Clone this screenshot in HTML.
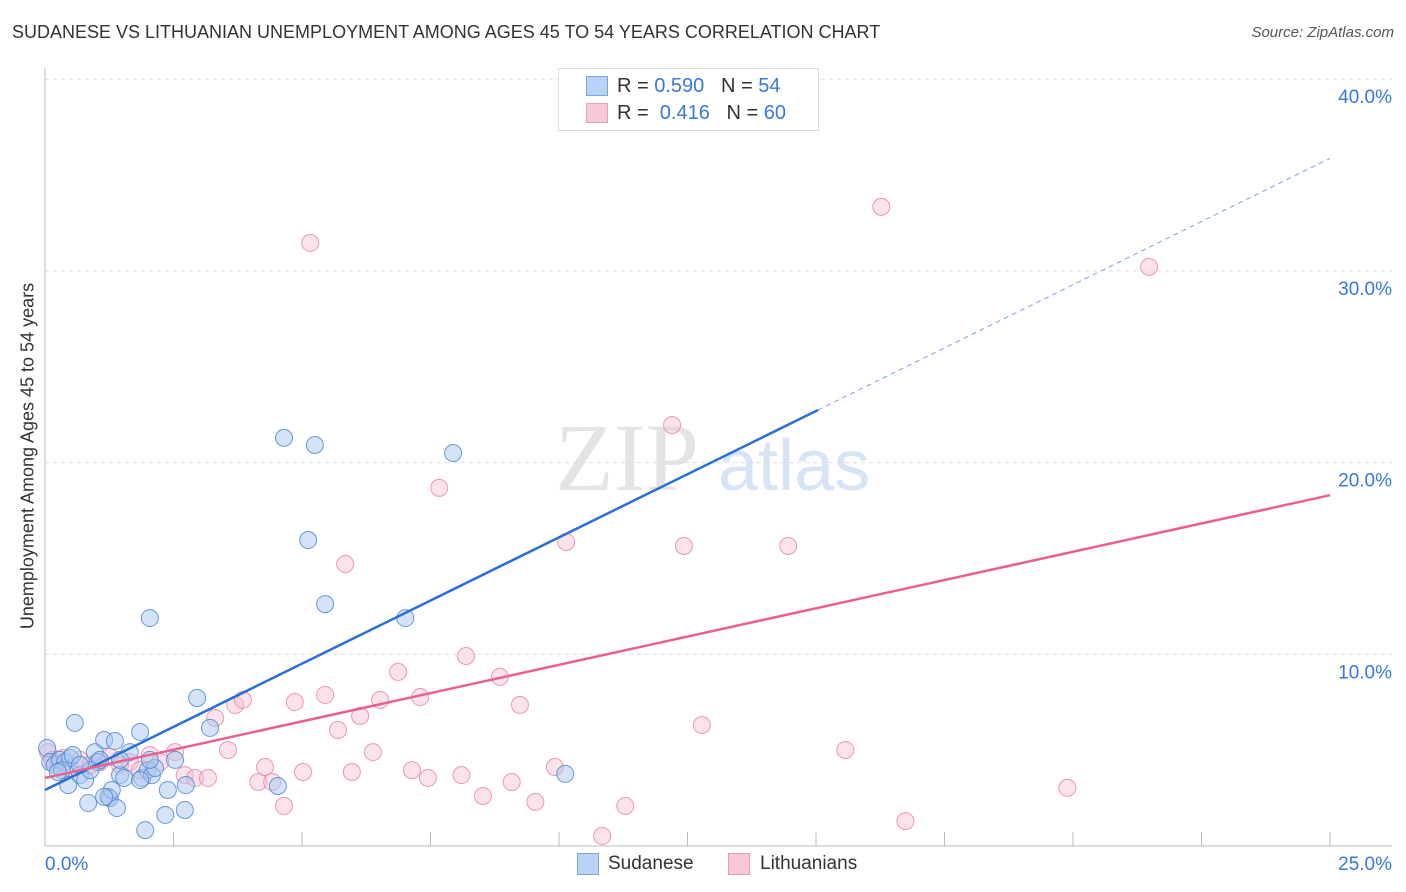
<!DOCTYPE html>
<html><head><meta charset="utf-8"><style>
body{margin:0;background:#fff;font-family:"Liberation Sans",sans-serif;}
#wrap{position:relative;width:1406px;height:892px;overflow:hidden;}
.t{position:absolute;white-space:nowrap;}
</style></head><body>
<div id="wrap">
<div class="t" style="left:12px;top:22px;font-size:18px;color:#333;">SUDANESE VS LITHUANIAN UNEMPLOYMENT AMONG AGES 45 TO 54 YEARS CORRELATION CHART</div>
<div class="t" style="right:12px;top:24px;font-size:15px;color:#555;font-style:italic;">Source: ZipAtlas.com</div>
<div class="t" style="left:28px;top:456px;font-size:18px;color:#333;transform:translate(-50%,-50%) rotate(-90deg);">Unemployment Among Ages 45 to 54 years</div>
<svg id="svg" width="1406" height="892" style="position:absolute;left:0;top:0"></svg>
<div style="position:absolute;left:558px;top:68px;width:259px;height:61px;border:1px solid #ddd;background:#fff;font-size:20px;">
<div style="position:absolute;left:27px;top:7px;width:20px;height:18px;background:#b8d3f5;border:1px solid #7aa6e0;"></div>
<div class="t" style="left:58px;top:6px;color:#333;">R = <span style="color:#3a78d6">0.590</span>&nbsp;&nbsp;&nbsp;N = <span style="color:#3a78d6">54</span></div>
<div style="position:absolute;left:27px;top:34px;width:20px;height:18px;background:#f8c8d6;border:1px solid #e8a0b5;"></div>
<div class="t" style="left:58px;top:33px;color:#333;">R = &nbsp;<span style="color:#3a78d6">0.416</span>&nbsp;&nbsp;&nbsp;N = <span style="color:#3a78d6">60</span></div>
</div>
<div style="position:absolute;left:577px;top:853px;width:20px;height:20px;background:#b8d3f5;border:1px solid #7aa6e0;"></div>
<div class="t" style="left:608px;top:853px;font-size:19px;color:#333;">Sudanese</div>
<div style="position:absolute;left:728px;top:853px;width:20px;height:20px;background:#f8c8d6;border:1px solid #e8a0b5;"></div>
<div class="t" style="left:760px;top:853px;font-size:19px;color:#333;">Lithuanians</div>
</div>
<script>
const xTicks=[0,25];
const yTicks=[10,20,30,40];
const blueX=[0.04,0.10,0.19,0.29,0.39,0.49,0.54,0.58,0.45,0.68,0.78,0.84,0.97,1.03,1.07,1.15,1.23,1.26,1.30,1.36,1.40,1.46,1.54,1.65,1.85,1.89,1.95,2.00,2.04,2.08,2.14,2.34,2.39,2.53,2.72,2.74,2.96,3.21,4.53,4.65,5.12,5.25,5.45,7.01,7.94,10.12,0.88,0.33,1.85,0.68,0.25,1.15,2.04,1.46];
const blueY=[5.11,4.38,4.23,4.49,4.38,4.59,4.75,6.42,3.18,3.70,3.44,2.24,4.90,4.38,4.49,5.53,2.56,2.50,2.92,5.48,1.98,3.70,3.55,4.90,5.95,3.55,0.83,3.96,11.89,3.70,4.07,1.62,2.92,4.49,1.88,3.18,7.72,6.16,3.13,21.29,15.96,20.92,12.62,11.89,20.50,3.76,3.96,3.96,3.44,4.23,3.86,2.56,4.49,4.49];
const pinkX=[0.06,0.14,0.25,0.35,0.49,0.68,0.88,1.07,1.26,1.46,1.65,1.85,2.04,2.24,2.53,2.72,2.92,3.17,3.31,3.56,3.70,3.85,4.15,4.28,4.42,4.65,4.86,5.02,5.16,5.45,5.70,5.84,5.97,6.13,6.38,6.52,6.87,7.14,7.30,7.45,7.67,8.10,8.19,8.52,8.85,9.08,9.24,9.54,9.92,10.14,10.84,11.29,12.20,12.43,12.78,14.46,15.57,16.27,16.74,19.89,21.48];
const pinkY=[4.90,4.49,4.33,4.59,4.07,4.49,4.23,4.38,4.64,4.23,4.38,3.96,4.75,4.38,4.90,3.70,3.55,3.55,6.68,5.01,7.36,7.62,3.34,4.12,3.34,2.09,7.51,3.86,31.46,7.88,6.05,14.71,3.86,6.78,4.90,7.62,9.08,3.96,7.77,3.55,18.68,3.70,9.91,2.61,8.82,3.34,7.36,2.30,4.12,15.86,0.52,2.09,21.96,15.65,6.31,15.65,5.01,33.34,1.30,3.03,30.21];
const blueFit=[2.92,1.318];
const pinkFit=[3.55,0.590];
const X=v=>45+v/25*1285, Y=v=>846-v*19.17;
const svg=document.getElementById('svg'),NS='http://www.w3.org/2000/svg';
function mk(t,a,p){const e=document.createElementNS(NS,t);for(const k in a)e.setAttribute(k,a[k]);(p||svg).appendChild(e);return e;}
// watermark
let w=mk('text',{x:555,y:490,'font-size':96,fill:'#e4e4e4','font-family':'Liberation Serif'});w.textContent='ZIP';

let w2=mk('text',{x:718,y:490,'font-size':72,fill:'#d6e4f5','font-family':'Liberation Sans'});w2.textContent='atlas';

yTicks.forEach(v=>{let l=mk('line',{x1:45,x2:1392,y1:Y(v),y2:Y(v),stroke:'#ddd','stroke-dasharray':'4,4'});

let t=mk('text',{x:1392,y:Y(v)+24,'text-anchor':'end','font-size':19,fill:'#3a78d6'});t.textContent=v.toFixed(1)+'%';
});
let ax=mk('line',{x1:45,x2:45,y1:68,y2:846,stroke:'#bbb'});
let bx=mk('line',{x1:45,x2:1392,y1:846,y2:846,stroke:'#bbb'});
for(let i=0;i<=10;i++){let tk=mk('line',{x1:X(i*2.5),x2:X(i*2.5),y1:832,y2:846,stroke:'#bbb'});}
xTicks.forEach((v,i)=>{let t=mk('text',{x:i?1392:45,y:870,'text-anchor':i?'end':'start','font-size':19,fill:'#3a78d6'});t.textContent=v.toFixed(1)+'%';
});
pinkX.forEach((x,i)=>{let c=mk('circle',{cx:X(x),cy:Y(pinkY[i]),r:8.5,fill:'rgba(248,190,208,0.45)',stroke:'rgba(230,130,160,0.8)','stroke-width':1});
});
blueX.forEach((x,i)=>{let c=mk('circle',{cx:X(x),cy:Y(blueY[i]),r:8.5,fill:'rgba(170,200,240,0.5)',stroke:'rgba(70,130,210,0.8)','stroke-width':1});
});
let bl=mk('line',{x1:X(0),y1:Y(blueFit[0]),x2:X(15.04),y2:Y(blueFit[0]+blueFit[1]*15.04),stroke:'#2a6fd6','stroke-width':2.5});

let bd=mk('line',{x1:X(15.04),y1:Y(blueFit[0]+blueFit[1]*15.04),x2:X(25),y2:Y(blueFit[0]+blueFit[1]*25),stroke:'#7aa6e0','stroke-width':1,'stroke-dasharray':'5,4'});

let pl=mk('line',{x1:X(0),y1:Y(pinkFit[0]),x2:X(25),y2:Y(pinkFit[0]+pinkFit[1]*25),stroke:'#e8608e','stroke-width':2.5});

</script>
</body></html>
